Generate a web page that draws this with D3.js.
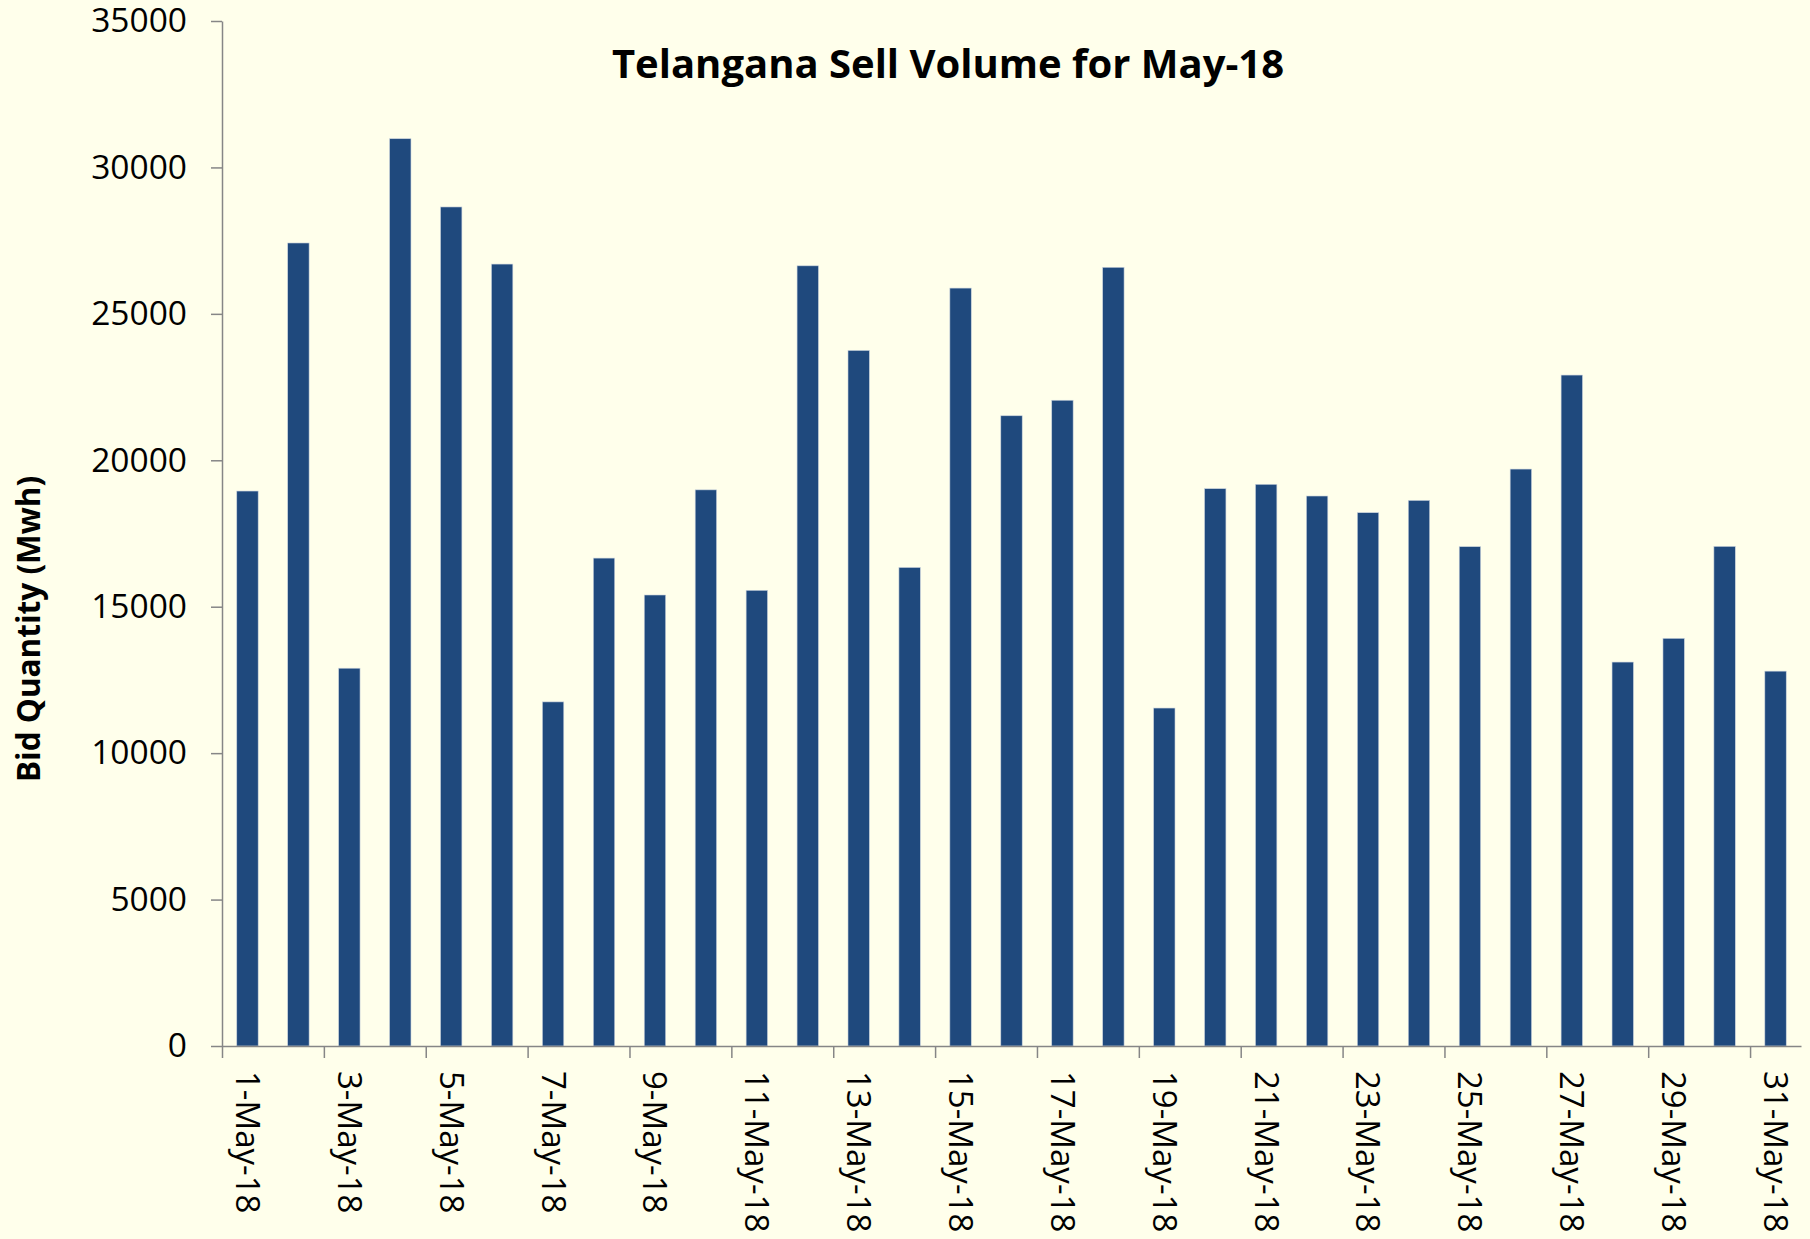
<!DOCTYPE html>
<html>
<head>
<meta charset="utf-8">
<script src="https://cdn.jsdelivr.net/npm/d3@7"></script>
<style>
    body { margin: 0; background: #FFFFEB; }
    svg { display: block; }
</style>
</head>
<body>
<div id="chart"></div>
<script>
// data
const days = d3.range(1, 32).map(d => `${d}-May-18`);
const sellVolume = [
    18950, 27420, 12900, 30980, 28650, 26700, 11750, 16660, 15400, 18990,
    15560, 26640, 23750, 16340, 25880, 21520, 22050, 26590, 11540, 19030,
    19180, 18780, 18210, 18630, 17050, 19700, 22910, 13110, 13920, 17060,
    12800
];
const yTicks = [0, 5000, 10000, 15000, 20000, 25000, 30000, 35000];
const labelDays = days.filter((d, i) => i % 2 === 0);

const width = 1810, height = 1239;
const margin = {top: 21, right: 9, bottom: 193, left: 222};

const axisColor = '#868686';
const barColor = '#1F497D';
const font = '"Open Sans", "DejaVu Sans", sans-serif';

const svg = d3.select('#chart')
    .append('svg')
    .attr('width', width)
    .attr('height', height)
    .style('background', '#FFFFEB');

const x = d3.scaleBand()
    .domain(days)
    .range([margin.left, width - margin.right])
    .paddingInner(0.58)
    .paddingOuter(0.29);

// category boundaries for the tick marks (Excel puts them between categories)
const xEdge = d3.scaleLinear()
    .domain([0, days.length])
    .range([margin.left, width - margin.right]);

const y = d3.scaleLinear()
    .domain([0, 35000])
    .range([height - margin.bottom, margin.top]);

// bars
svg.append('g')
    .selectAll('rect')
    .data(sellVolume)
    .enter().append('rect')
    .attr('x', (d, i) => x(days[i]))
    .attr('y', d => y(d))
    .attr('width', x.bandwidth())
    .attr('height', d => y(0) - y(d))
    .attr('fill', barColor)
    .attr('stroke', '#c9d2dd')
    .attr('stroke-width', 0.6);

// y axis
const yAxis = svg.append('g')
    .attr('transform', `translate(${margin.left},0)`)
    .call(d3.axisLeft(y).tickValues(yTicks).tickFormat(d3.format('d')).tickSize(11).tickPadding(24).tickSizeOuter(0));
yAxis.select('.domain').attr('stroke', axisColor).attr('stroke-width', 1.5);
yAxis.selectAll('.tick line').attr('stroke', axisColor).attr('stroke-width', 1.5);
yAxis.selectAll('.tick text')
    .attr('fill', '#000')
    .style('font-family', font)
    .style('font-size', '33.5px');

// x axis line + tick marks
const xTickAxis = svg.append('g')
    .attr('transform', `translate(0,${y(0)})`)
    .call(d3.axisBottom(xEdge).tickValues(d3.range(0, days.length, 2)).tickFormat('').tickSize(12).tickSizeOuter(0));
xTickAxis.select('.domain').attr('stroke', axisColor).attr('stroke-width', 1.5);
xTickAxis.selectAll('.tick line').attr('stroke', axisColor).attr('stroke-width', 1.5);

// x labels, rotated to read downward
const xLabelAxis = svg.append('g')
    .attr('transform', `translate(0,${y(0)})`)
    .call(d3.axisBottom(x).tickValues(labelDays).tickSize(0).tickPadding(0));
xLabelAxis.select('.domain').remove();
xLabelAxis.selectAll('.tick text')
    .attr('transform', 'rotate(90)')
    .attr('x', 25)
    .attr('y', 0)
    .attr('dy', '0.35em')
    .attr('text-anchor', 'start')
    .attr('fill', '#000')
    .style('font-family', font)
    .style('font-size', '33px');

// title
svg.append('text')
    .attr('x', 948)
    .attr('y', 78)
    .attr('text-anchor', 'middle')
    .style('font-family', font)
    .style('font-weight', 'bold')
    .style('font-size', '40px')
    .text('Telangana Sell Volume for May-18');

// y axis title
svg.append('text')
    .attr('transform', 'translate(29,629) rotate(-90)')
    .attr('text-anchor', 'middle')
    .attr('dy', '0.35em')
    .style('font-family', font)
    .style('font-weight', 'bold')
    .style('font-size', '31.5px')
    .text('Bid Quantity (Mwh)');
</script>
</body>
</html>
